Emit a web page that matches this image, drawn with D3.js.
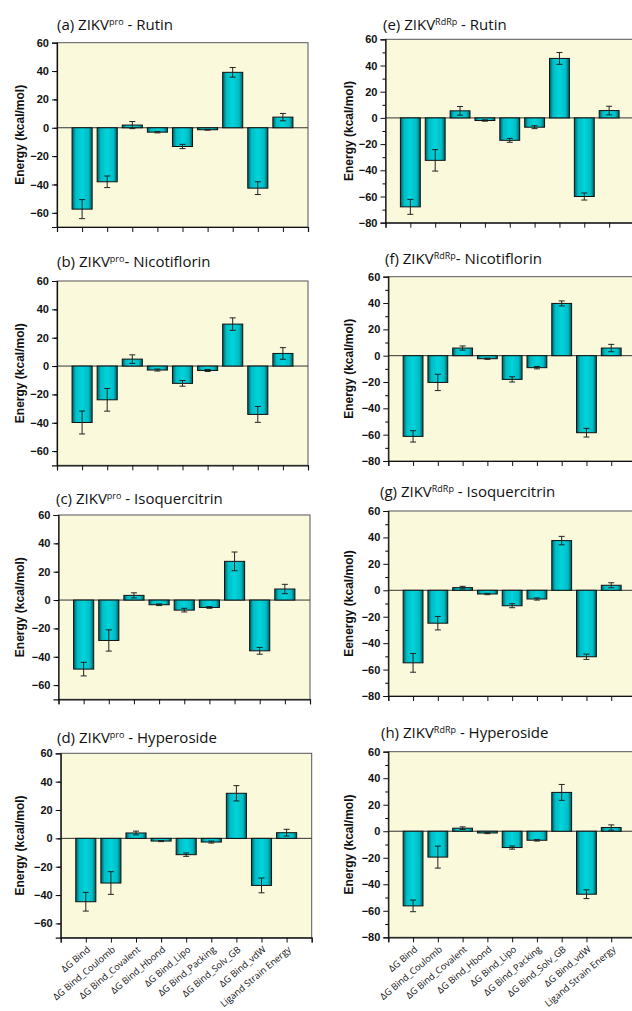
<!DOCTYPE html>
<html lang="en">
<head>
<meta charset="UTF-8">
<title>ZIKV binding energy components</title>
<script src="https://d3js.org/d3.v7.min.js"></script>
<style>
  body { margin: 0; background: #fff; }
  svg { display: block; }
  .tick text { font-family: "Liberation Sans", Arial, sans-serif; font-weight: bold; font-size: 11px; fill: #111; }
  .title { font-family: "Open Sans", "Noto Sans", sans-serif; font-size: 15px; fill: #111; }
  .ylab { font-family: "Liberation Sans", Arial, sans-serif; font-weight: bold; font-size: 12px; fill: #111; }
  .cat { font-family: "Open Sans", "Noto Sans", sans-serif; font-size: 9.3px; fill: #111; }
</style>
</head>
<body>
<svg id="fig" width="632" height="1011"></svg>
<script>
// categories (x axis)
const categories = ["\u0394G Bind", "\u0394G Bind_Coulomb", "\u0394G Bind_Covalent", "\u0394G Bind_Hbond",
  "\u0394G Bind_Lipo", "\u0394G Bind_Packing", "\u0394G Bind_Solv_GB", "\u0394G Bind_vdW", "Ligand Strain Energy"];

// ZIKV pro
const proRutin = [-57.4, -38.1, 1.9, -3.1, -13.2, -1.4, 39.1, -42.6, 7.5];
const proRutinErr = [6.7, 4.1, 2.5, 0.5, 1.5, 0.3, 3.4, 4.5, 2.6];
const proNicotiflorin = [-39.8, -23.8, 4.9, -2.8, -12.2, -3.1, 29.6, -34.1, 8.9];
const proNicotiflorinErr = [8.1, 8.0, 3.0, 0.7, 2.0, 0.7, 4.4, 5.6, 4.1];
const proIsoquercitrin = [-48.7, -28.5, 3.3, -3.3, -7.1, -5.2, 27.3, -35.8, 7.8];
const proIsoquercitrinErr = [4.8, 7.5, 1.8, 0.6, 1.3, 0.6, 6.6, 2.4, 3.3];
const proHyperoside = [-44.7, -31.5, 3.8, -1.9, -11.5, -2.6, 31.8, -33.2, 4.0];
const proHyperosideErr = [6.6, 8.0, 1.3, 0.4, 1.2, 0.7, 5.4, 5.2, 2.4];

// ZIKV RdRp
const rdrpRutin = [-67.9, -32.4, 5.4, -2.0, -17.1, -7.1, 45.4, -60.0, 5.6];
const rdrpRutinErr = [5.7, 8.2, 3.3, 0.5, 1.5, 1.1, 4.5, 2.7, 3.3];
const rdrpNicotiflorin = [-61.3, -20.3, 5.8, -2.3, -18.0, -9.1, 39.7, -58.5, 5.8];
const rdrpNicotiflorinErr = [4.3, 6.2, 1.6, 0.5, 2.0, 0.9, 1.9, 3.3, 2.8];
const rdrpIsoquercitrin = [-54.9, -24.9, 2.0, -2.8, -11.7, -6.6, 37.6, -50.3, 3.8];
const rdrpIsoquercitrinErr = [7.1, 5.1, 1.0, 0.5, 1.5, 0.8, 3.2, 2.0, 1.9];
const rdrpHyperoside = [-56.3, -19.5, 2.3, -1.3, -12.3, -6.8, 29.3, -47.5, 2.8];
const rdrpHyperosideErr = [4.4, 8.3, 1.0, 0.5, 1.2, 0.6, 6.0, 3.3, 2.0];

const yTicksPro = [-60, -40, -20, 0, 20, 40, 60];
const yTicksRdrp = [-80, -60, -40, -20, 0, 20, 40, 60];

// layout of the eight panels
const panels = [
  {tag: "(a)", sup: "pro", sep: " - ", lig: "Rutin", vals: proRutin, err: proRutinErr, ymin: -70, ticks: yTicksPro,
   x0: 57, x1: 308, yTop: 42.7, yBot: 227, tx: 57, ty: 30, lx: 20, ylab: "Energy (kcal/mol)"},
  {tag: "(b)", sup: "pro", sep: "- ", lig: "Nicotiflorin", vals: proNicotiflorin, err: proNicotiflorinErr, ymin: -70, ticks: yTicksPro,
   x0: 57, x1: 308, yTop: 281, yBot: 465.3, tx: 57, ty: 267, lx: 20, ylab: "Energy (kcal/mol)"},
  {tag: "(c)", sup: "pro", sep: " - ", lig: "Isoquercitrin", vals: proIsoquercitrin, err: proIsoquercitrinErr, ymin: -70, ticks: yTicksPro,
   x0: 58.5, x1: 310, yTop: 515, yBot: 699.3, tx: 56, ty: 504, lx: 20, ylab: "Energy (kcal/mol)"},
  {tag: "(d)", sup: "pro", sep: " - ", lig: "Hyperoside", vals: proHyperoside, err: proHyperosideErr, ymin: -70, ticks: yTicksPro,
   x0: 60.7, x1: 311.7, yTop: 753.3, yBot: 937.6, tx: 57, ty: 743, lx: 20, ylab: "Energy (kcal/mol)", labels: true},
  {tag: "(e)", sup: "RdRp", sep: " - ", lig: "Rutin", vals: rdrpRutin, err: rdrpRutinErr, ymin: -80, ticks: yTicksRdrp,
   x0: 385.5, x1: 634, yTop: 39.3, yBot: 222.7, tx: 383, ty: 30, lx: 349, ylab: "Energy (kcal/mol)"},
  {tag: "(f)", sup: "RdRp", sep: "- ", lig: "Nicotiflorin", vals: rdrpNicotiflorin, err: rdrpNicotiflorinErr, ymin: -80, ticks: yTicksRdrp,
   x0: 388.3, x1: 636, yTop: 276.7, yBot: 461, tx: 385, ty: 264, lx: 349, ylab: "Energy (kcal/mol)"},
  {tag: "(g)", sup: "RdRp", sep: " - ", lig: "Isoquercitrin", vals: rdrpIsoquercitrin, err: rdrpIsoquercitrinErr, ymin: -80, ticks: yTicksRdrp,
   x0: 388.3, x1: 636, yTop: 511, yBot: 696, tx: 380, ty: 497, lx: 349, ylab: "Eenergy (kcal/mol)"},
  {tag: "(h)", sup: "RdRp", sep: " - ", lig: "Hyperoside", vals: rdrpHyperoside, err: rdrpHyperosideErr, ymin: -80, ticks: yTicksRdrp,
   x0: 388.3, x1: 636, yTop: 751.7, yBot: 937.3, tx: 381, ty: 738, lx: 349, ylab: "Energy (kcal/mol)", labels: true}
];

const svg = d3.select("#fig");

const defs = svg.append("defs");
const grad = defs.append("linearGradient").attr("id", "barGrad")
  .attr("x1", "0%").attr("x2", "100%").attr("y1", "0%").attr("y2", "0%");
grad.append("stop").attr("offset", "0%").attr("stop-color", "#005a60");
grad.append("stop").attr("offset", "18%").attr("stop-color", "#00bcc4");
grad.append("stop").attr("offset", "50%").attr("stop-color", "#00d4dc");
grad.append("stop").attr("offset", "82%").attr("stop-color", "#00bcc4");
grad.append("stop").attr("offset", "100%").attr("stop-color", "#005a60");

panels.forEach(p => {
  const g = svg.append("g");

  const x = d3.scaleLinear().domain([0, 10]).range([p.x0, p.x1]);
  const y = d3.scaleLinear().domain([p.ymin, 60]).range([p.yBot, p.yTop]);
  const step = x(1) - x(0);
  const bw = step * 0.8;

  // plot background + frame
  g.append("rect")
    .attr("x", p.x0).attr("y", p.yTop)
    .attr("width", p.x1 - p.x0).attr("height", p.yBot - p.yTop)
    .attr("fill", "#faf9dc").attr("stroke", "#555").attr("stroke-width", 1);

  // zero line
  g.append("line")
    .attr("x1", p.x0).attr("x2", p.x1)
    .attr("y1", y(0)).attr("y2", y(0))
    .attr("stroke", "#333").attr("stroke-width", 1);

  // bars
  g.selectAll("rect.bar")
    .data(p.vals)
    .join("rect")
    .attr("class", "bar")
    .attr("x", (d, i) => x(i + 1) - bw / 2)
    .attr("y", d => y(Math.max(0, d)))
    .attr("width", bw)
    .attr("height", d => Math.abs(y(d) - y(0)))
    .attr("fill", "url(#barGrad)")
    .attr("stroke", "#111").attr("stroke-width", 1);

  // error bars
  const eb = g.selectAll("g.err")
    .data(p.vals.map((v, i) => ({v, e: p.err[i], i})))
    .join("g").attr("class", "err")
    .attr("stroke", "#222").attr("stroke-width", 1);
  eb.append("line")
    .attr("x1", d => x(d.i + 1)).attr("x2", d => x(d.i + 1))
    .attr("y1", d => y(d.v - d.e)).attr("y2", d => y(d.v + d.e));
  eb.append("line")
    .attr("x1", d => x(d.i + 1) - 3).attr("x2", d => x(d.i + 1) + 3)
    .attr("y1", d => y(d.v - d.e)).attr("y2", d => y(d.v - d.e));
  eb.append("line")
    .attr("x1", d => x(d.i + 1) - 3).attr("x2", d => x(d.i + 1) + 3)
    .attr("y1", d => y(d.v + d.e)).attr("y2", d => y(d.v + d.e));

  // y axis: major + minor ticks
  const yAxis = g.append("g").attr("transform", `translate(${p.x0},0)`)
    .call(d3.axisLeft(y).tickValues(p.ticks).tickSize(5).tickPadding(3).tickFormat(d3.format("d")));
  const minor = d3.range(p.ymin + 10, 60, 20);
  g.append("g").attr("transform", `translate(${p.x0},0)`)
    .call(d3.axisLeft(y).tickValues(minor).tickSize(3).tickFormat(""))
    .call(a => a.select(".domain").remove());
  yAxis.select(".domain").attr("stroke", "#111").attr("stroke-width", 1.2);
  yAxis.selectAll(".tick line").attr("stroke", "#111");

  // x axis
  const xAxis = g.append("g").attr("transform", `translate(0,${p.yBot})`)
    .call(d3.axisBottom(x).tickValues(d3.range(0, 11)).tickSize(5).tickFormat(""));
  xAxis.select(".domain").attr("stroke", "#111").attr("stroke-width", 1.2);
  xAxis.selectAll(".tick line").attr("stroke", "#111");

  if (p.labels) {
    g.selectAll("text.cat")
      .data(categories)
      .join("text")
      .attr("class", "cat")
      .attr("text-anchor", "end")
      .attr("transform", (d, i) => `translate(${x(i + 1) + 5},${p.yBot + 13}) rotate(-40)`)
      .text(d => d);
  }

  // y label
  g.append("text")
    .attr("class", "ylab")
    .attr("text-anchor", "middle")
    .attr("transform", `translate(${p.lx},${(p.yTop + p.yBot) / 2}) rotate(-90)`)
    .attr("dy", "0.35em")
    .text(p.ylab);

  // title
  const t = g.append("text").attr("class", "title").attr("x", p.tx).attr("y", p.ty);
  t.append("tspan").text(p.tag + " ZIKV");
  t.append("tspan").attr("font-size", "9px").attr("dy", "-5").text(p.sup);
  t.append("tspan").attr("dy", "5").text(p.sep + p.lig);
});
</script>
</body>
</html>
